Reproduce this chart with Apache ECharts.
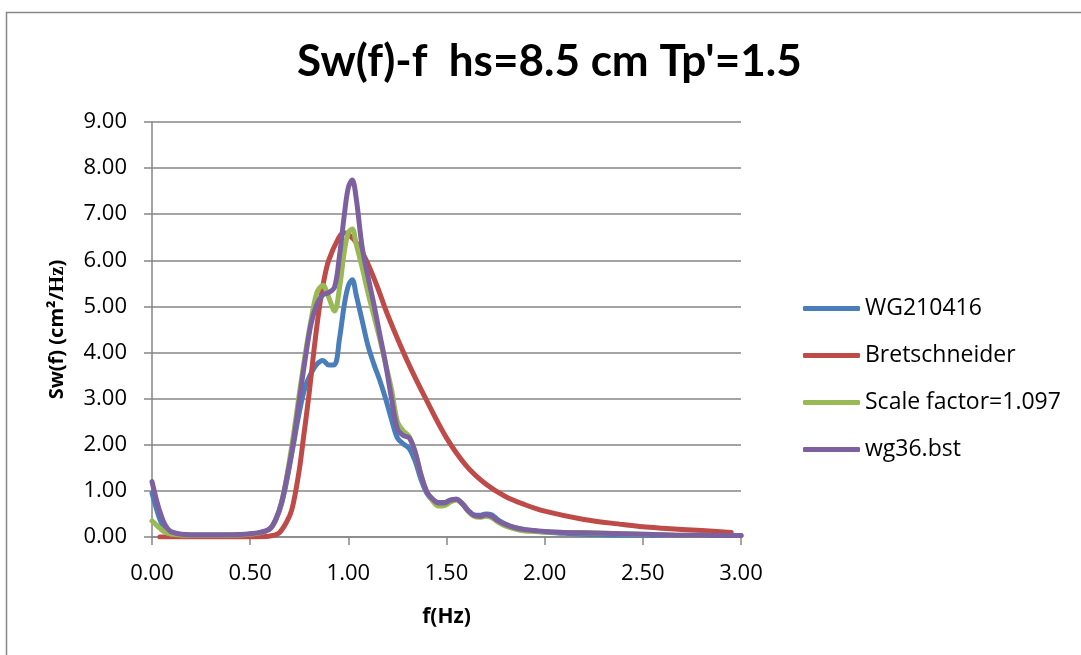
<!DOCTYPE html>
<html>
<head>
<meta charset="utf-8">
<script src="https://cdn.jsdelivr.net/npm/echarts@6/dist/echarts.min.js"></script>
<style>html,body{margin:0;padding:0;background:#fff;}#c{width:1081px;height:655px;}</style>
</head>
<body>
<div id="c"></div>
<script>
// Frequencies (Hz) shared by the measured / scaled series
var freq = [0, 0.02, 0.04, 0.06, 0.08, 0.1, 0.15, 0.2, 0.3, 0.4, 0.5, 0.55, 0.6, 0.63, 0.66, 0.69, 0.72, 0.75, 0.78, 0.81, 0.84, 0.87, 0.9, 0.93, 0.955, 0.98, 1.0, 1.02, 1.04, 1.07, 1.1, 1.13, 1.16, 1.19, 1.22, 1.25, 1.28, 1.31, 1.34, 1.37, 1.40, 1.43, 1.46, 1.49, 1.52, 1.55, 1.58, 1.61, 1.64, 1.67, 1.70, 1.73, 1.76, 1.80, 1.85, 1.9, 1.95, 2.0, 2.1, 2.2, 2.3, 2.4, 2.5, 2.6, 2.7, 2.8, 2.9, 3.0];

var wg210416 = [0.95, 0.65, 0.38, 0.20, 0.11, 0.07, 0.04, 0.04, 0.04, 0.04, 0.06, 0.09, 0.17, 0.37, 0.72, 1.30, 2.00, 2.70, 3.25, 3.55, 3.75, 3.83, 3.73, 3.74, 4.30, 5.05, 5.45, 5.58, 5.25, 4.70, 4.15, 3.75, 3.40, 3.00, 2.55, 2.15, 2.02, 1.92, 1.65, 1.25, 0.95, 0.80, 0.75, 0.75, 0.80, 0.82, 0.73, 0.58, 0.48, 0.47, 0.50, 0.48, 0.38, 0.28, 0.20, 0.16, 0.13, 0.11, 0.08, 0.06, 0.05, 0.04, 0.04, 0.03, 0.03, 0.03, 0.03, 0.03];

var scaleFactor = [0.35, 0.27, 0.19, 0.12, 0.08, 0.06, 0.04, 0.04, 0.04, 0.04, 0.06, 0.09, 0.17, 0.37, 0.75, 1.40, 2.20, 3.10, 3.95, 4.70, 5.30, 5.46, 5.20, 4.90, 5.40, 6.20, 6.60, 6.68, 6.35, 5.85, 5.30, 4.80, 4.30, 3.75, 3.20, 2.50, 2.30, 2.18, 1.85, 1.35, 0.98, 0.78, 0.67, 0.68, 0.76, 0.80, 0.72, 0.56, 0.45, 0.43, 0.45, 0.42, 0.33, 0.24, 0.17, 0.13, 0.12, 0.11, 0.10, 0.09, 0.08, 0.07, 0.06, 0.05, 0.04, 0.04, 0.03, 0.03];

var wg36 = [1.20, 0.85, 0.55, 0.32, 0.18, 0.11, 0.06, 0.05, 0.05, 0.05, 0.07, 0.10, 0.18, 0.38, 0.75, 1.35, 2.05, 2.95, 3.85, 4.62, 5.05, 5.25, 5.30, 5.42, 6.10, 7.00, 7.58, 7.74, 7.35, 6.30, 5.65, 5.05, 4.40, 3.75, 3.00, 2.35, 2.20, 2.15, 1.85, 1.35, 0.98, 0.82, 0.74, 0.74, 0.80, 0.82, 0.72, 0.57, 0.47, 0.45, 0.48, 0.45, 0.36, 0.27, 0.20, 0.16, 0.14, 0.12, 0.10, 0.09, 0.08, 0.07, 0.06, 0.05, 0.04, 0.04, 0.03, 0.03];

// Bretschneider spectrum
var bretFreq = [0.04, 0.1, 0.2, 0.3, 0.4, 0.5, 0.55, 0.6, 0.65, 0.7, 0.72, 0.75, 0.77, 0.8, 0.825, 0.85, 0.875, 0.9, 0.95, 0.975, 1.0, 1.05, 1.1, 1.15, 1.2, 1.3, 1.4, 1.5, 1.6, 1.7, 1.8, 1.9, 2.0, 2.2, 2.4, 2.5, 2.6, 2.8, 2.95];
var bret = [0, 0, 0, 0, 0, 0, 0.005, 0.02, 0.10, 0.45, 0.73, 1.45, 2.10, 3.10, 4.05, 4.90, 5.55, 6.00, 6.48, 6.60, 6.57, 6.33, 5.92, 5.40, 4.82, 3.82, 2.95, 2.15, 1.55, 1.15, 0.88, 0.70, 0.56, 0.38, 0.27, 0.22, 0.19, 0.14, 0.10];

var seriesNames = ['WG210416', 'Bretschneider', 'Scale factor=1.097', 'wg36.bst'];
var seriesColors = ['#4A7EBB', '#BE4B48', '#98B954', '#7D60A0'];

function pairs(xs, ys) { return xs.map(function (x, i) { return [x, ys[i]]; }); }

var seriesData = [pairs(freq, wg210416), pairs(bretFreq, bret), pairs(freq, scaleFactor), pairs(freq, wg36)];

var grey = '#868686';
var font = '"Open Sans", sans-serif';

var chart = echarts.init(document.getElementById('c'), null, { renderer: 'canvas' });
chart.setOption({
  backgroundColor: '#ffffff',
  animation: false,
  graphic: [{
    type: 'rect', left: 4, top: 10, z: -1,
    shape: { width: 1200, height: 800 },
    style: { fill: 'none', stroke: grey, lineWidth: 1.5 }
  }],
  title: {
    text: "Sw(f)-f  hs=8.5 cm Tp'=1.5",
    left: 292, top: 35,
    textStyle: { fontFamily: 'Lato, sans-serif', fontWeight: 'bold', fontSize: 44, color: '#000' }
  },
  grid: { left: 152, right: 340, top: 122, bottom: 118 },
  legend: {
    orient: 'vertical', left: 798, top: 292,
    icon: 'roundRect', itemWidth: 57, itemHeight: 5, itemGap: 24,
    textStyle: { fontFamily: font, fontSize: 23, color: '#000', lineHeight: 20 },
    data: seriesNames
  },
  xAxis: {
    type: 'value', min: 0, max: 3, interval: 0.5,
    name: 'f(Hz)', nameLocation: 'middle', nameGap: 70,
    nameTextStyle: { fontFamily: font, fontWeight: 'bold', fontSize: 21, color: '#000' },
    axisLine: { show: true, lineStyle: { color: grey, width: 1.5 } },
    axisTick: { show: true, inside: false, length: 8, lineStyle: { color: grey, width: 1.5 } },
    axisLabel: { margin: 26, fontFamily: font, fontSize: 22, color: '#000', formatter: function (v) { return v.toFixed(2); } },
    splitLine: { show: false }
  },
  yAxis: {
    type: 'value', min: 0, max: 9, interval: 1,
    name: 'Sw(f) (cm²/{s|Hz})', nameLocation: 'middle', nameGap: 84, nameRotate: 90,
    nameTextStyle: {
      fontFamily: font, fontWeight: 'bold', fontSize: 20, color: '#000',
      rich: { s: { fontFamily: '"Liberation Serif", serif', fontWeight: 'bold', fontSize: 21, color: '#000' } }
    },
    axisLine: { show: true, lineStyle: { color: grey, width: 1.5 } },
    axisTick: { show: true, inside: false, length: 8, lineStyle: { color: grey, width: 1.5 } },
    axisLabel: { margin: 25, fontFamily: font, fontSize: 22, color: '#000', formatter: function (v) { return v.toFixed(2); } },
    splitLine: { show: true, lineStyle: { color: grey, width: 1.5 } }
  },
  series: seriesNames.map(function (n, i) {
    return {
      name: n, type: 'line', data: seriesData[i], showSymbol: false, symbol: 'none',
      smooth: 0.35, color: seriesColors[i],
      lineStyle: { width: 5, color: seriesColors[i], cap: 'round', join: 'round' },
      z: 2 + i
    };
  })
});
</script>
</body>
</html>
